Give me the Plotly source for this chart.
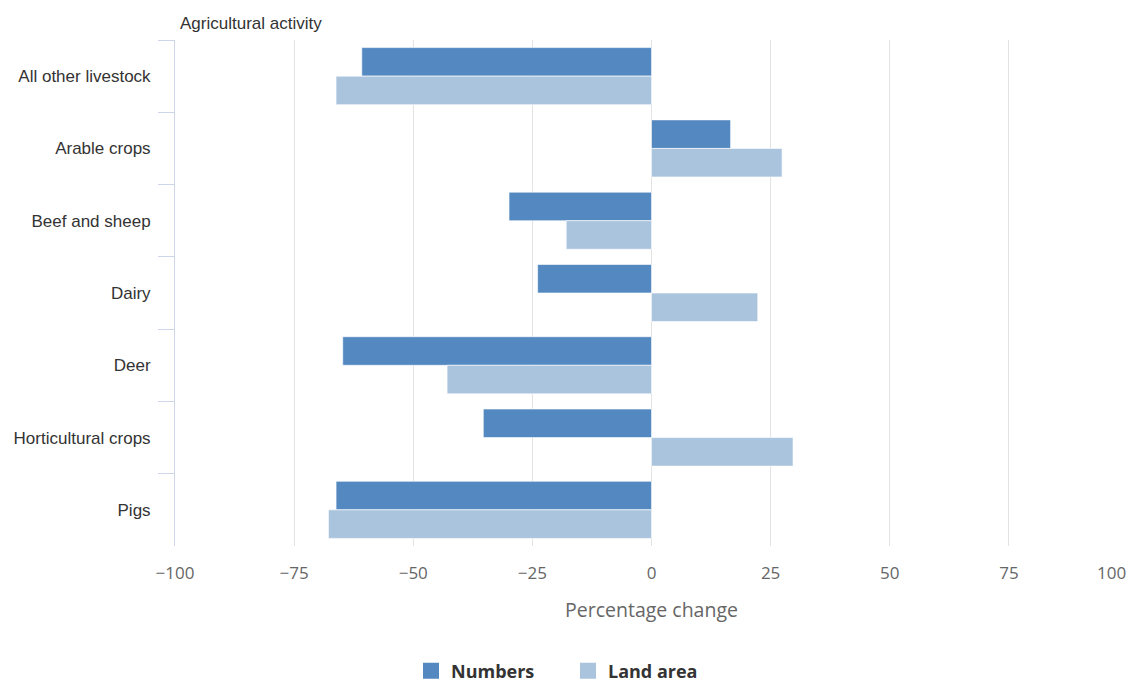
import plotly.graph_objects as go

# Percentage change by agricultural activity
categories = [
    "All other livestock",
    "Arable crops",
    "Beef and sheep",
    "Dairy",
    "Deer",
    "Horticultural crops",
    "Pigs",
]
numbers = [-60.8, 16.6, -29.9, -23.9, -64.8, -35.3, -66.2]
land_area = [-66.2, 27.4, -17.9, 22.3, -42.9, 29.7, -67.8]

x_ticks = [-100, -75, -50, -25, 0, 25, 50, 75, 100]

NUM_COLOR = "#5389c0"
LAND_COLOR = "#aac4de"

W, H = 1132, 684
L, R, T, B = 175, 4, 40, 138

fig = go.Figure()

fig.add_trace(go.Bar(
    y=categories, x=numbers, orientation="h", name="Numbers",
    marker=dict(color=NUM_COLOR, line=dict(color="rgba(255,255,255,0.6)", width=1)),
    showlegend=False,
))
fig.add_trace(go.Bar(
    y=categories, x=land_area, orientation="h", name="Land area",
    marker=dict(color=LAND_COLOR, line=dict(color="rgba(255,255,255,0.6)", width=1)),
    showlegend=False,
))

# legend entries with larger square swatches
for name, color in [("Numbers", NUM_COLOR), ("Land area", LAND_COLOR)]:
    fig.add_trace(go.Scatter(
        x=[None], y=[None], mode="markers", name=name,
        marker=dict(symbol="square", size=18, color=color),
        showlegend=True,
    ))

tick_text = ["\u2212" + str(-v) if v < 0 else str(v) for v in x_ticks]
tick_text[-1] = ""  # last label is placed separately so it stays inside the chart

TICK_FONT = dict(family="Open Sans, sans-serif", size=17, color="#666666")

fig.update_layout(
    width=W, height=H,
    margin=dict(l=L, r=R, t=T, b=B, autoexpand=False),
    paper_bgcolor="white", plot_bgcolor="white",
    barmode="group", bargap=0.21, bargroupgap=0.0,
    font=dict(family="Liberation Sans, Arial, sans-serif", color="#333333"),
    xaxis=dict(
        range=[-100, 100],
        tickvals=x_ticks, ticktext=tick_text,
        showgrid=True, gridcolor="#e3e3e3", gridwidth=1,
        zeroline=False, showline=False,
        ticks="", ticklabelstandoff=15,
        tickfont=TICK_FONT,
        title=dict(text="Percentage change", standoff=20,
                   font=dict(family="Open Sans, sans-serif", size=19.5, color="#666666")),
    ),
    yaxis=dict(
        autorange="reversed",
        showgrid=False, zeroline=False,
        showline=True, linecolor="#ccd6eb", linewidth=1,
        ticks="outside", tickson="boundaries", ticklen=16, tickcolor="#ccd6eb",
        ticklabelstandoff=20,
        tickfont=dict(family="Liberation Sans, Arial, sans-serif", size=17, color="#333333"),
    ),
    legend=dict(
        orientation="h", xref="container", x=568 / W, xanchor="center",
        yref="container", y=(H - 671) / H, yanchor="middle",
        font=dict(family="Open Sans, sans-serif", size=18, color="#333333", weight="bold"),
        itemwidth=30, tracegroupgap=0, entrywidth=112,
    ),
)

fig.add_annotation(
    text="100", x=100, xref="x", y=0, yref="paper",
    xanchor="right", yanchor="top", yshift=-13, showarrow=False,
    font=TICK_FONT,
)
fig.add_annotation(
    text="Agricultural activity", x=(178 - L) / (W - L - R), xref="paper",
    y=1, yref="paper", xanchor="left", yanchor="bottom", yshift=5,
    showarrow=False,
    font=dict(family="Liberation Sans, Arial, sans-serif", size=17, color="#333333"),
)

fig.write_html("out.html")
